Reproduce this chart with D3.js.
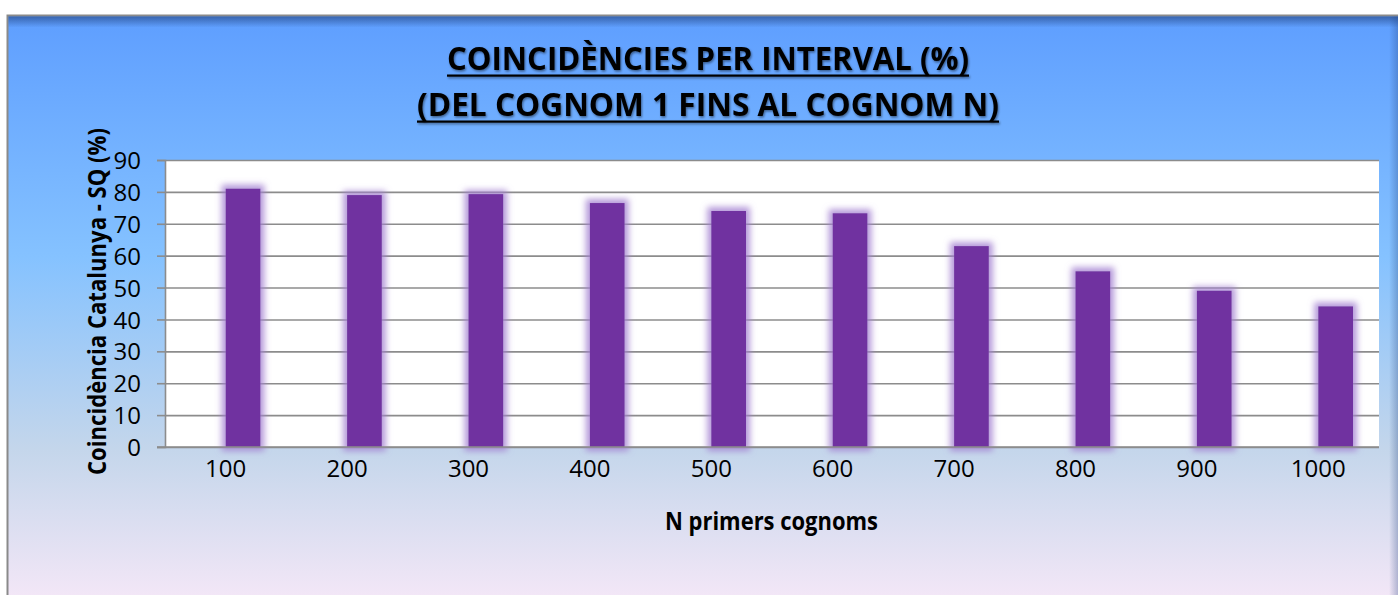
<!DOCTYPE html>
<html>
<head>
<meta charset="utf-8">
<script src="https://cdn.jsdelivr.net/npm/d3@7"></script>
<style>
  body { margin: 0; background: #fff; }
  text { font-family: "Open Sans", "Noto Sans", sans-serif; fill: #000; }
</style>
</head>
<body>
<div id="chart"></div>
<script>
// data
const categories = ["100", "200", "300", "400", "500", "600", "700", "800", "900", "1000"];
const seriesNames = ["buit", "SQ"];          // first series is empty in the original
const sqValues = [81, 79, 79.3, 76.5, 74, 73.3, 63, 55.1, 49, 44.1];
const yTicks = [0, 10, 20, 30, 40, 50, 60, 70, 80, 90];
const titleLines = ["COINCIDÈNCIES PER INTERVAL (%)", "(DEL COGNOM 1 FINS AL COGNOM N)"];

const W = 1398, H = 595;
const plot = {left: 165, right: 1379, top: 160, bottom: 447};

const svg = d3.select("#chart").append("svg")
    .attr("width", W)
    .attr("height", H);

const defs = svg.append("defs");

// Excel "Daybreak" like background
const bg = defs.append("linearGradient").attr("id", "bg")
    .attr("x1", 0).attr("y1", 0).attr("x2", 0).attr("y2", 1);
[["0%", "#5e9eff"], ["39%", "#85c2ff"], ["70%", "#c4d6eb"], ["100%", "#ffebfa"]]
    .forEach(s => bg.append("stop").attr("offset", s[0]).attr("stop-color", s[1]));

const topShade = defs.append("linearGradient").attr("id", "topShade")
    .attr("x1", 0).attr("y1", 0).attr("x2", 0).attr("y2", 1);
topShade.append("stop").attr("offset", "0%").attr("stop-color", "#1f3f7a").attr("stop-opacity", 0.6);
topShade.append("stop").attr("offset", "100%").attr("stop-color", "#1f3f7a").attr("stop-opacity", 0);

const rightShade = defs.append("linearGradient").attr("id", "rightShade")
    .attr("x1", 0).attr("y1", 0).attr("x2", 1).attr("y2", 0);
rightShade.append("stop").attr("offset", "0%").attr("stop-color", "#1f3f7a").attr("stop-opacity", 0);
rightShade.append("stop").attr("offset", "100%").attr("stop-color", "#1f3f7a").attr("stop-opacity", 0.3);

// soft purple glow round the columns
const glow = defs.append("filter").attr("id", "glow")
    .attr("x", "-50%").attr("y", "-20%").attr("width", "200%").attr("height", "140%");
glow.append("feMorphology").attr("in", "SourceAlpha").attr("operator", "dilate").attr("radius", 4).attr("result", "thick");
glow.append("feGaussianBlur").attr("in", "thick").attr("stdDeviation", 3).attr("result", "blur");
glow.append("feFlood").attr("flood-color", "#a27fd0").attr("flood-opacity", 0.8);
glow.append("feComposite").attr("in2", "blur").attr("operator", "in").attr("result", "glowCol");
const gm = glow.append("feMerge");
gm.append("feMergeNode").attr("in", "glowCol");
gm.append("feMergeNode").attr("in", "SourceGraphic");

// title shadow
const tshadow = defs.append("filter").attr("id", "tshadow")
    .attr("x", "-5%").attr("y", "-20%").attr("width", "110%").attr("height", "140%");
tshadow.append("feDropShadow").attr("dx", 1).attr("dy", 1.5).attr("stdDeviation", 1)
    .attr("flood-color", "#000").attr("flood-opacity", 0.45);

// chart area frame
svg.append("rect")
    .attr("x", 7.5).attr("y", 15.5)
    .attr("width", 1410).attr("height", 620)
    .attr("fill", "url(#bg)")
    .attr("stroke", "#8a8a8a")
    .attr("stroke-width", 2);
svg.append("rect")
    .attr("x", 8.5).attr("y", 16.5).attr("width", 1400).attr("height", 11)
    .attr("fill", "url(#topShade)");
svg.append("rect")
    .attr("x", 1389).attr("y", 16.5).attr("width", 9).attr("height", 600)
    .attr("fill", "url(#rightShade)");

// scales
const x = d3.scaleBand()
    .domain(categories)
    .range([plot.left, plot.right])
    .padding(0);

// two series per category, gap width 150%
const x1 = d3.scaleBand()
    .domain(seriesNames)
    .range([0, x.bandwidth()])
    .paddingInner(0)
    .paddingOuter(0.75);

const y = d3.scaleLinear()
    .domain([0, 90])
    .range([plot.bottom, plot.top]);

// plot area
svg.append("rect")
    .attr("x", plot.left).attr("y", plot.top)
    .attr("width", plot.right - plot.left)
    .attr("height", plot.bottom - plot.top)
    .attr("fill", "#fff");

// gridlines
const grid = svg.append("g")
    .attr("transform", "translate(" + plot.left + ",0)")
    .call(d3.axisLeft(y).tickValues(yTicks).tickSize(-(plot.right - plot.left)).tickFormat(""));
grid.select(".domain").remove();
grid.selectAll("line").attr("stroke", "#8c8c8c").attr("stroke-width", 1.6);

// columns
svg.append("g").selectAll("rect")
    .data(sqValues)
    .join("rect")
    .attr("x", (d, i) => x(categories[i]) + x1("SQ"))
    .attr("y", d => y(d))
    .attr("width", x1.bandwidth())
    .attr("height", d => y(0) - y(d))
    .attr("fill", "#7030a0")
    .attr("filter", "url(#glow)");

// y axis
const yAxis = svg.append("g")
    .attr("transform", "translate(" + plot.left + ",0)")
    .call(d3.axisLeft(y).tickValues(yTicks).tickSize(8).tickPadding(16));
yAxis.select(".domain").attr("stroke", "#8c8c8c").attr("stroke-width", 1.6);
yAxis.selectAll("line").attr("stroke", "#8c8c8c").attr("stroke-width", 1.6);
yAxis.selectAll("text")
    .style("font-family", "'Open Sans', sans-serif")
    .style("font-size", "24px")
    .attr("dy", "0.36em");

// x axis
const xAxis = svg.append("g")
    .attr("transform", "translate(0," + plot.bottom + ")")
    .call(d3.axisBottom(x).tickSize(0).tickPadding(26));
xAxis.select(".domain").remove();
xAxis.selectAll("text")
    .style("font-family", "'Open Sans', sans-serif")
    .style("font-size", "24px")
    .attr("dy", "0.15em");
svg.append("line")
    .attr("x1", plot.left - 8).attr("x2", plot.right)
    .attr("y1", plot.bottom).attr("y2", plot.bottom)
    .attr("stroke", "#8c8c8c").attr("stroke-width", 1.6);

// title
const titleBase = [70, 116];
const titleLen = [522, 582];
const title = svg.append("g").attr("filter", "url(#tshadow)");
titleLines.forEach((t, i) => {
    title.append("text")
        .attr("x", 708)
        .attr("y", titleBase[i])
        .attr("text-anchor", "middle")
        .attr("textLength", titleLen[i])
        .attr("lengthAdjust", "spacingAndGlyphs")
        .style("font-size", "33px")
        .style("font-weight", "bold")
        .text(t);
    title.append("rect")
        .attr("x", 708 - titleLen[i] / 2)
        .attr("y", titleBase[i] + 4.5)
        .attr("width", titleLen[i])
        .attr("height", 2.2)
        .attr("fill", "#000");
});

// axis titles
svg.append("text")
    .attr("x", 771.5)
    .attr("y", 530)
    .attr("text-anchor", "middle")
    .attr("textLength", 213)
    .attr("lengthAdjust", "spacingAndGlyphs")
    .style("font-size", "25px")
    .style("font-weight", "bold")
    .text("N primers cognoms");

svg.append("text")
    .attr("transform", "translate(106,301.5) rotate(-90)")
    .attr("text-anchor", "middle")
    .attr("textLength", 347)
    .attr("lengthAdjust", "spacingAndGlyphs")
    .style("font-size", "25px")
    .style("font-weight", "bold")
    .text("Coincidència Catalunya - SQ (%)");
</script>
</body>
</html>
